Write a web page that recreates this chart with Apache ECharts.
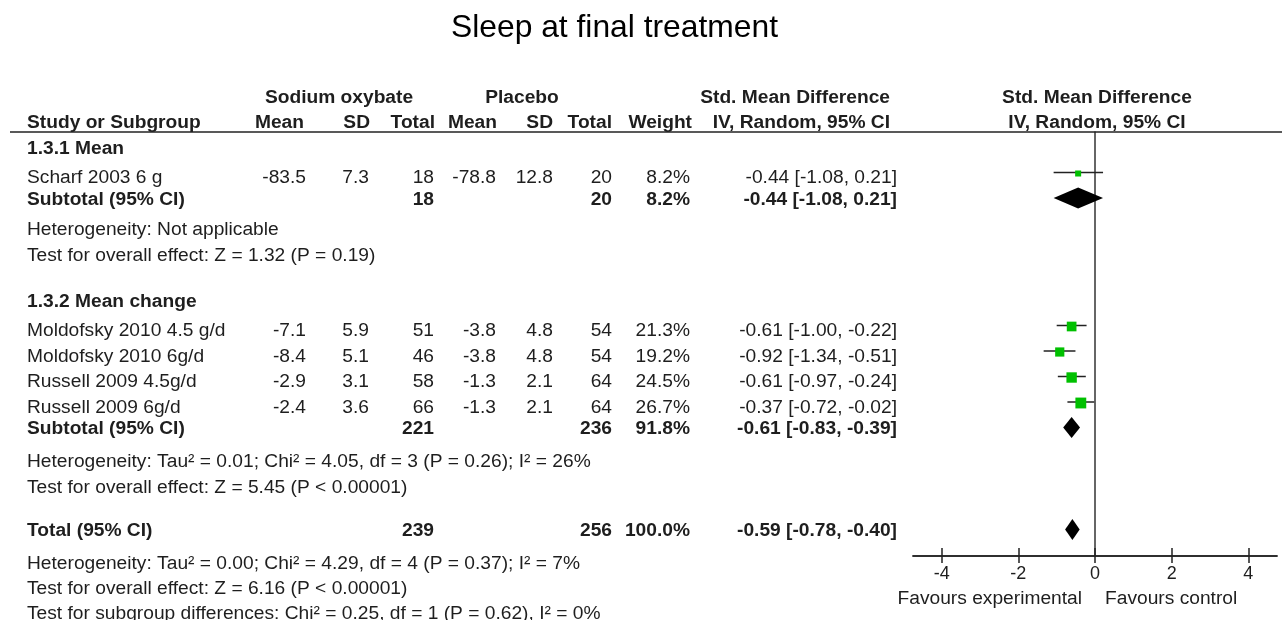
<!DOCTYPE html>
<html><head><meta charset="utf-8">
<script src="https://cdn.jsdelivr.net/npm/echarts@6/dist/echarts.min.js"></script>
<style>html,body{margin:0;padding:0;background:#fff}#c{width:1282px;height:620px}</style>
</head><body><div id="c"></div>
<script>
// ---------- data ----------
const studies = ['Scharf 2003 6 g', 'Moldofsky 2010 4.5 g/d', 'Moldofsky 2010 6g/d', 'Russell 2009 4.5g/d', 'Russell 2009 6g/d'];
const soMean = [-83.5, -7.1, -8.4, -2.9, -2.4];
const soSD = [7.3, 5.9, 5.1, 3.1, 3.6];
const soTotal = [18, 51, 46, 58, 66];
const plMean = [-78.8, -3.8, -3.8, -1.3, -1.3];
const plSD = [12.8, 4.8, 4.8, 2.1, 2.1];
const plTotal = [20, 54, 54, 64, 64];
const weight = [8.2, 21.3, 19.2, 24.5, 26.7];
const smd = [-0.44, -0.61, -0.92, -0.61, -0.37];
const ciLow = [-1.08, -1.00, -1.34, -0.97, -0.72];
const ciHigh = [0.21, -0.22, -0.51, -0.24, -0.02];

const pooledLabels = ['Subtotal (95% CI)', 'Subtotal (95% CI)', 'Total (95% CI)'];
const pooledSO = [18, 221, 239];
const pooledPL = [20, 236, 256];
const pooledWeight = [8.2, 91.8, 100.0];
const pooledSMD = [-0.44, -0.61, -0.59];
const pooledLow = [-1.08, -0.83, -0.78];
const pooledHigh = [0.21, -0.39, -0.40];

const subgroupNames = ['1.3.1 Mean', '1.3.2 Mean change'];
const statTexts = [
  'Heterogeneity: Not applicable',
  'Test for overall effect: Z = 1.32 (P = 0.19)',
  'Heterogeneity: Tau² = 0.01; Chi² = 4.05, df = 3 (P = 0.26); I² = 26%',
  'Test for overall effect: Z = 5.45 (P < 0.00001)',
  'Heterogeneity: Tau² = 0.00; Chi² = 4.29, df = 4 (P = 0.37); I² = 7%',
  'Test for overall effect: Z = 6.16 (P < 0.00001)',
  'Test for subgroup differences: Chi² = 0.25, df = 1 (P = 0.62), I² = 0%'
];
const tickValues = [-4, -2, 0, 2, 4];
const favourLabels = ['Favours experimental', 'Favours control'];

// ---------- layout (row units) ----------
const studyRows = [1, 7, 8, 9, 10];
const pooledRows = [2, 11, 15];
const subgroupRows = [0, 6];
const statRows = [3.2, 4.2, 12.3, 13.3, 16.3, 17.25, 18.25];
const favourRow = 17.65;

const W = 1282, H = 620;
const ROW0 = 147, ROWH = 25.5;
const PLOT_TOP = 132, PLOT_AXIS_Y = 556, PLOT_LEFT = 913, PLOT_RIGHT = 1277;
const FONT = "'Liberation Sans', Arial, sans-serif";
const TXT = '#1e1e1e';
const FS = 19.2;
const TEXT_DY = 1.5;

const items = []; // [x, row, text, align, bold, dy]
function add(x, row, text, align, bold, dy) { items.push([x, row, text, align, !!bold, (dy || 0) + TEXT_DY]); }

// headers
add(339, -2, 'Sodium oxybate', 'center', true);
add(522, -2, 'Placebo', 'center', true);
add(890, -2, 'Std. Mean Difference', 'right', true);
add(1097, -2, 'Std. Mean Difference', 'center', true);
add(27, -1, 'Study or Subgroup', 'left', true);
add(304, -1, 'Mean', 'right', true);
add(370, -1, 'SD', 'right', true);
add(435, -1, 'Total', 'right', true);
add(497, -1, 'Mean', 'right', true);
add(553, -1, 'SD', 'right', true);
add(612, -1, 'Total', 'right', true);
add(692, -1, 'Weight', 'right', true);
add(890, -1, 'IV, Random, 95% CI', 'right', true);
add(1097, -1, 'IV, Random, 95% CI', 'center', true);

subgroupNames.forEach((s, i) => add(27, subgroupRows[i], s, 'left', true));
const ci = (m, l, h) => m.toFixed(2) + ' [' + l.toFixed(2) + ', ' + h.toFixed(2) + ']';
studies.forEach((s, i) => {
  const r = studyRows[i], dy = 4;
  add(27, r, s, 'left', false, dy);
  add(306, r, soMean[i].toFixed(1), 'right', false, dy);
  add(369, r, soSD[i].toFixed(1), 'right', false, dy);
  add(434, r, String(soTotal[i]), 'right', false, dy);
  add(496, r, plMean[i].toFixed(1), 'right', false, dy);
  add(553, r, plSD[i].toFixed(1), 'right', false, dy);
  add(612, r, String(plTotal[i]), 'right', false, dy);
  add(690, r, weight[i].toFixed(1) + '%', 'right', false, dy);
  add(897, r, ci(smd[i], ciLow[i], ciHigh[i]), 'right', false, dy);
});
pooledLabels.forEach((s, i) => {
  const r = pooledRows[i];
  add(27, r, s, 'left', true);
  add(434, r, String(pooledSO[i]), 'right', true);
  add(612, r, String(pooledPL[i]), 'right', true);
  add(690, r, pooledWeight[i].toFixed(1) + '%', 'right', true);
  add(897, r, ci(pooledSMD[i], pooledLow[i], pooledHigh[i]), 'right', true);
});
statTexts.forEach((s, i) => add(27, statRows[i], s, 'left', false));
add(1082, favourRow, favourLabels[0], 'right', false);
add(1105, favourRow, favourLabels[1], 'left', false);

const chart = echarts.init(document.getElementById('c'));
const option = {
  animation: false,
  backgroundColor: '#fff',
  title: {
    text: 'Sleep at final treatment', left: 451, top: 12, padding: 0,
    textStyle: { fontFamily: FONT, fontSize: 31.8, fontWeight: 'normal', color: '#000', lineHeight: 32 }
  },
  grid: [
    { left: 0, right: 0, top: 0, bottom: 0 },
    { left: PLOT_LEFT, right: W - PLOT_RIGHT, top: PLOT_TOP, bottom: H - PLOT_AXIS_Y }
  ],
  xAxis: [
    { gridIndex: 0, type: 'value', min: 0, max: W, show: false },
    { gridIndex: 1, type: 'value', min: -4.75, max: 4.75, position: 'bottom',
      axisLine: { show: true, onZero: false, lineStyle: { color: '#222', width: 1.5 } },
      axisTick: { show: true, inside: true, length: 8, customValues: tickValues, lineStyle: { color: '#222', width: 1.5 } },
      axisLabel: { show: false }, splitLine: { show: false } },
    { gridIndex: 1, type: 'value', min: -4.75, max: 4.75, position: 'bottom', offset: 0,
      axisLine: { show: true, onZero: false, lineStyle: { color: '#222', width: 1.5 } },
      axisTick: { show: true, inside: false, length: 7, customValues: tickValues, lineStyle: { color: '#222', width: 1.5 } },
      axisLabel: { show: true, customValues: tickValues, margin: 9, fontFamily: FONT, fontSize: 18, color: TXT },
      splitLine: { show: false } }
  ],
  yAxis: [
    { gridIndex: 0, type: 'value', inverse: true, min: -ROW0 / ROWH, max: (H - ROW0) / ROWH, show: false },
    { gridIndex: 1, type: 'value', inverse: true, min: (PLOT_TOP - ROW0) / ROWH, max: (PLOT_AXIS_Y - ROW0) / ROWH,
      axisLine: { show: true, onZero: true, lineStyle: { color: '#333', width: 1.5 } },
      axisTick: { show: false }, axisLabel: { show: false }, splitLine: { show: false } }
  ],
  graphic: [
    { type: 'line', shape: { x1: 10, y1: PLOT_TOP, x2: W, y2: PLOT_TOP }, style: { stroke: '#222', lineWidth: 1.5 }, z: 10 }
  ],
  series: [
    {
      type: 'custom', xAxisIndex: 0, yAxisIndex: 0, clip: false, silent: true,
      data: items.map(d => [d[0], d[1]]),
      renderItem: (params, api) => {
        const it = items[params.dataIndex];
        const p = api.coord([api.value(0), api.value(1)]);
        return { type: 'text', x: p[0], y: p[1] + it[5],
          style: { text: it[2], align: it[3], verticalAlign: 'middle', fill: TXT,
            fontFamily: FONT, fontSize: FS, fontWeight: it[4] ? 'bold' : 'normal' } };
      }
    },
    {
      type: 'custom', xAxisIndex: 1, yAxisIndex: 1, clip: false, silent: true,
      data: smd.map((m, i) => [m, studyRows[i], ciLow[i], ciHigh[i], weight[i]]),
      renderItem: (params, api) => {
        const c = api.coord([api.value(0), api.value(1)]);
        const l = api.coord([api.value(2), api.value(1)]);
        const h = api.coord([api.value(3), api.value(1)]);
        const s = 2.1 * Math.sqrt(api.value(4));
        return { type: 'group', children: [
          { type: 'line', shape: { x1: l[0], y1: l[1], x2: h[0], y2: h[1] }, style: { stroke: '#222', lineWidth: 1.5 } },
          { type: 'rect', shape: { x: c[0] - s / 2, y: c[1] - s / 2 + 1, width: s, height: s }, style: { fill: '#00C000' } }
        ] };
      }
    },
    {
      type: 'custom', xAxisIndex: 1, yAxisIndex: 1, clip: false, silent: true,
      data: pooledSMD.map((m, i) => [m, pooledRows[i], pooledLow[i], pooledHigh[i]]),
      renderItem: (params, api) => {
        const c = api.coord([api.value(0), api.value(1)]);
        const l = api.coord([api.value(2), api.value(1)]);
        const h = api.coord([api.value(3), api.value(1)]);
        const hh = 10.5;
        return { type: 'polygon', shape: { points: [[l[0], c[1]], [c[0], c[1] - hh], [h[0], c[1]], [c[0], c[1] + hh]] },
          style: { fill: '#000' } };
      }
    }
  ]
};
chart.setOption(option);
</script>
</body></html>
